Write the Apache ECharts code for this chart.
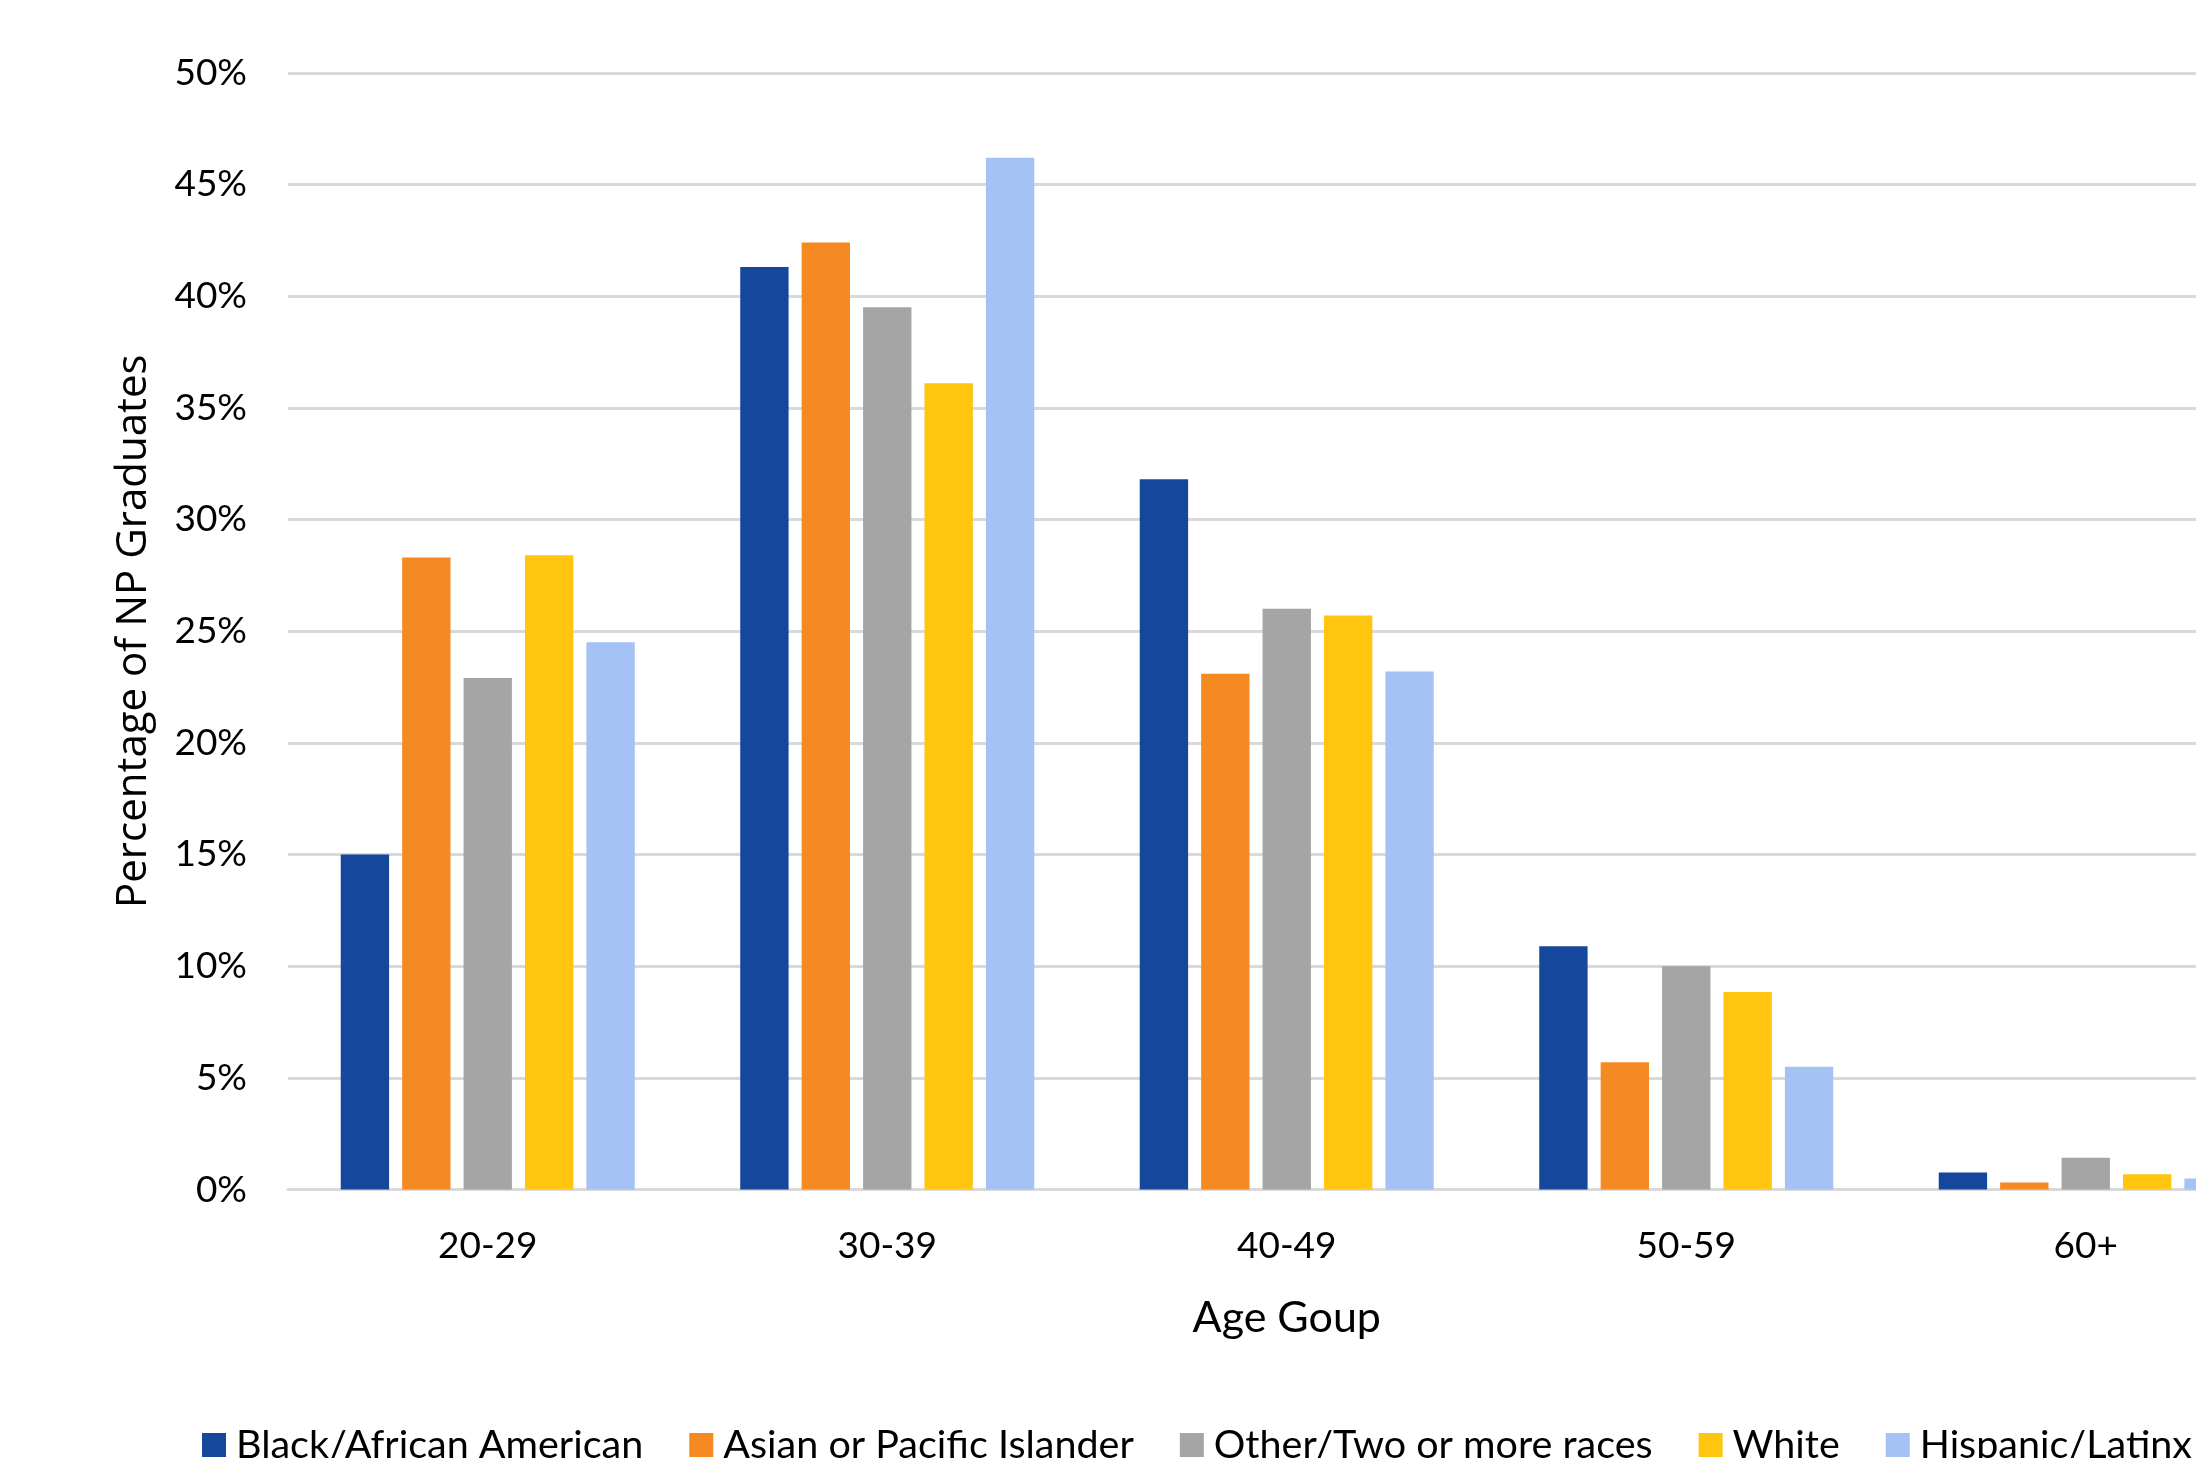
<!DOCTYPE html>
<html>
<head>
<meta charset="utf-8">
<script src="https://cdn.jsdelivr.net/npm/echarts@6/dist/echarts.min.js"></script>
<style>
  html, body { margin: 0; padding: 0; background: #fff; overflow: hidden; }
  #chart { width: 2400px; height: 1500px; }
</style>
</head>
<body>
<div id="chart"></div>
<script>
const categories = ['20-29', '30-39', '40-49', '50-59', '60+'];
const seriesNames = ['Black/African American', 'Asian or Pacific Islander', 'Other/Two or more races', 'White', 'Hispanic/Latinx'];
const blackAfricanAmerican = [15.0, 41.3, 31.8, 10.9, 0.76];
const asianPacificIslander = [28.3, 42.4, 23.1, 5.7, 0.32];
const otherTwoOrMore = [22.9, 39.5, 26.0, 10.0, 1.43];
const white = [28.4, 36.1, 25.7, 8.85, 0.69];
const hispanicLatinx = [24.5, 46.2, 23.2, 5.5, 0.50];
const colors = ['#15489C', '#F58A23', '#A5A5A5', '#FFC50F', '#A4C2F4'];
const yTicks = { min: 0, max: 50, interval: 5 };

const values = [blackAfricanAmerican, asianPacificIslander, otherTwoOrMore, white, hispanicLatinx];

const chart = echarts.init(document.getElementById('chart'), null, { renderer: 'canvas' });
chart.setOption({
  animation: false,
  backgroundColor: '#ffffff',
  color: colors,
  grid: { left: 288, right: 114.5, top: 72.8, bottom: 310.4, containLabel: false },
  legend: {
    left: 202,
    top: 1425,
    padding: 0,
    orient: 'horizontal',
    width: 2300,
    itemWidth: 24,
    itemHeight: 24,
    itemGap: 46,
    icon: 'rect',
    data: seriesNames,
    textStyle: { fontFamily: 'Lato', fontSize: 39.5, color: '#000', lineHeight: 24, padding: [0, 0, 0, 5] }
  },
  xAxis: {
    type: 'category',
    data: categories,
    name: 'Age Goup',
    nameLocation: 'middle',
    nameGap: 106,
    nameTextStyle: { fontFamily: 'Lato', fontSize: 43, color: '#000', lineHeight: 46 },
    axisLine: { show: true, lineStyle: { color: '#D9D9D9', width: 3 } },
    axisTick: { show: false },
    axisLabel: { fontFamily: 'Lato', fontSize: 37, color: '#000', margin: 36, lineHeight: 40 },
    splitLine: { show: false }
  },
  yAxis: {
    type: 'value',
    min: yTicks.min,
    max: yTicks.max,
    interval: yTicks.interval,
    name: 'Percentage of NP Graduates',
    nameLocation: 'middle',
    nameGap: 130,
    nameTextStyle: { fontFamily: 'Open Sans', fontSize: 42, color: '#000', lineHeight: 48 },
    axisLine: { show: false },
    axisTick: { show: false },
    axisLabel: { fontFamily: 'Lato', fontSize: 37, color: '#000', margin: 41, formatter: '{value}%' },
    splitLine: { show: true, lineStyle: { color: '#D9D9D9', width: 3 } }
  },
  series: seriesNames.map((name, i) => ({
    name: name,
    type: 'bar',
    data: values[i],
    barGap: '27%',
    barCategoryGap: '26.4%',
    itemStyle: { color: colors[i] }
  }))
});
</script>
</body>
</html>
